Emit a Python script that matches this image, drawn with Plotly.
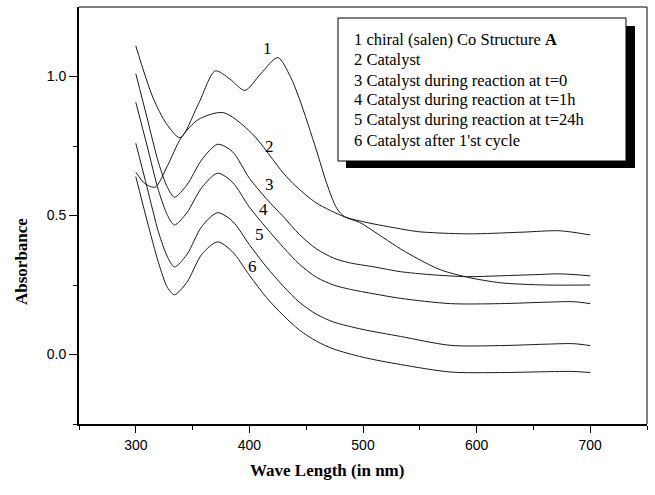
import plotly.graph_objects as go

# ---- data ----
x1 = [300, 315, 327, 339, 355, 370, 383, 396, 410, 425, 436, 444, 459, 468, 477, 484, 497, 518, 533, 548, 568, 592, 621, 660, 700]
y1 = [1.11, 0.925, 0.83, 0.78, 0.90, 1.02, 0.99, 0.95, 1.01, 1.068, 1.00, 0.92, 0.735, 0.616, 0.525, 0.495, 0.475, 0.42, 0.38, 0.345, 0.305, 0.278, 0.258, 0.25, 0.25]

x2 = [300, 308, 317, 328, 340, 355, 377, 402, 430, 441, 459, 484, 503, 533, 548, 592, 640, 673, 700]
y2 = [0.656, 0.615, 0.602, 0.68, 0.78, 0.845, 0.87, 0.796, 0.652, 0.605, 0.545, 0.495, 0.475, 0.452, 0.442, 0.434, 0.44, 0.445, 0.43]

x3 = [300, 310, 320, 328, 334, 345, 358, 372, 385, 400, 415, 430, 444, 459, 474, 488, 510, 533, 560, 592, 620, 650, 674, 700]
y3 = [1.01, 0.85, 0.69, 0.60, 0.566, 0.61, 0.70, 0.756, 0.73, 0.634, 0.56, 0.495, 0.432, 0.38, 0.347, 0.33, 0.315, 0.298, 0.287, 0.28, 0.283, 0.287, 0.29, 0.283]

x4 = [300, 310, 320, 328, 334, 345, 358, 372, 385, 400, 415, 430, 444, 459, 474, 488, 510, 533, 577, 621, 660, 685, 700]
y4 = [0.907, 0.75, 0.59, 0.50, 0.466, 0.51, 0.60, 0.652, 0.62, 0.53, 0.455, 0.385, 0.325, 0.278, 0.25, 0.235, 0.218, 0.202, 0.183, 0.183, 0.188, 0.19, 0.183]

x5 = [300, 310, 320, 328, 334, 345, 358, 372, 385, 400, 415, 430, 444, 459, 474, 500, 533, 577, 621, 660, 685, 700]
y5 = [0.76, 0.60, 0.44, 0.35, 0.315, 0.36, 0.46, 0.51, 0.48, 0.395, 0.315, 0.245, 0.188, 0.145, 0.117, 0.09, 0.065, 0.033, 0.032, 0.037, 0.039, 0.032]

x6 = [300, 310, 320, 328, 334, 345, 358, 372, 385, 400, 415, 430, 444, 459, 474, 500, 533, 577, 621, 660, 685, 700]
y6 = [0.64, 0.48, 0.33, 0.24, 0.215, 0.26, 0.36, 0.405, 0.37, 0.285, 0.205, 0.14, 0.088, 0.048, 0.02, -0.01, -0.036, -0.063, -0.065, -0.062, -0.061, -0.065]

curve_labels = ["1", "2", "3", "4", "5", "6"]
label_x = [416, 418, 418, 412, 409, 403]
label_y = [1.10, 0.75, 0.61, 0.52, 0.43, 0.315]

legend_lines = [
    "1 chiral (salen) Co Structure <b>A</b>",
    "2 Catalyst",
    "3 Catalyst during reaction at t=0",
    "4 Catalyst during reaction at t=1h",
    "5 Catalyst during reaction at t=24h",
    "6 Catalyst after 1'st cycle",
]

x_title = "Wave Length (in nm)"
y_title = "Absorbance"

# ---- figure ----
W, H = 655, 495
L, R, T, B = 79, 8, 7, 71
pw, ph = W - L - R, H - T - B


def px(xp):
    return (xp - L) / pw


def py(yp):
    return (H - B - yp) / ph


fig = go.Figure()
for xs, ys in [(x1, y1), (x2, y2), (x3, y3), (x4, y4), (x5, y5), (x6, y6)]:
    fig.add_trace(go.Scatter(x=xs, y=ys, mode="lines",
                             line=dict(color="#1a1a1a", width=1, shape="spline", smoothing=0.8),
                             showlegend=False, hoverinfo="skip"))

annotations = []
for t, lx, ly in zip(curve_labels, label_x, label_y):
    annotations.append(dict(x=lx, y=ly, xref="x", yref="y", text=t, showarrow=False,
                            font=dict(family="Liberation Serif", size=17, color="black")))

for i, line in enumerate(legend_lines):
    annotations.append(dict(x=px(352), y=py(40 + 20 * i), xref="paper", yref="paper",
                            text=line, showarrow=False, xanchor="left", yanchor="middle",
                            font=dict(family="Liberation Serif", size=16.5, color="black")))

annotations.append(dict(x=px(327), y=py(470), xref="paper", yref="paper", text="<b>" + x_title + "</b>",
                        showarrow=False, xanchor="center", yanchor="middle",
                        font=dict(family="Liberation Serif", size=17, color="black")))
annotations.append(dict(x=px(21), y=py(262), xref="paper", yref="paper", text="<b>" + y_title + "</b>",
                        showarrow=False, textangle=-90, xanchor="center", yanchor="middle",
                        font=dict(family="Liberation Serif", size=17, color="black")))

shapes = [
    # shadow
    dict(type="rect", xref="paper", yref="paper", x0=px(346), x1=px(635), y0=py(26), y1=py(168),
         fillcolor="black", line=dict(width=0), layer="above"),
    # legend box
    dict(type="rect", xref="paper", yref="paper", x0=px(338), x1=px(626), y0=py(18), y1=py(161),
         fillcolor="white", line=dict(color="black", width=1), layer="above"),
    # top and right frame lines (thin)
    dict(type="line", xref="paper", yref="paper", x0=0, x1=1, y0=1, y1=1,
         line=dict(color="black", width=1)),
    dict(type="line", xref="paper", yref="paper", x0=1, x1=1, y0=0, y1=1,
         line=dict(color="black", width=1)),
]

fig.update_layout(
    width=W, height=H,
    margin=dict(l=L, r=R, t=T, b=B, pad=0),
    paper_bgcolor="white", plot_bgcolor="white",
    showlegend=False,
    annotations=annotations,
    shapes=shapes,
    xaxis=dict(range=[250, 750], tickmode="array", tickvals=[300, 400, 500, 600, 700],
               showgrid=False, zeroline=False, showline=True, linecolor="black", linewidth=2,
               ticks="outside", ticklen=7, tickwidth=1, tickcolor="black",
               minor=dict(tickvals=[250, 350, 450, 550, 650, 750], ticklen=4, tickwidth=1,
                          tickcolor="black", ticks="outside", showgrid=False),
               tickfont=dict(family="Liberation Sans", size=14, color="black")),
    yaxis=dict(range=[-0.25, 1.25], tickmode="array", tickvals=[0.0, 0.5, 1.0],
               ticktext=["0.0", "0.5", "1.0"],
               showgrid=False, zeroline=False, showline=True, linecolor="black", linewidth=2,
               ticks="outside", ticklen=8, tickwidth=1, tickcolor="black",
               minor=dict(tickvals=[-0.25, 0.25, 0.75], ticklen=4, tickwidth=1,
                          tickcolor="black", ticks="outside", showgrid=False),
               tickfont=dict(family="Liberation Sans", size=14, color="black")),
)

fig.write_html("out.html")
